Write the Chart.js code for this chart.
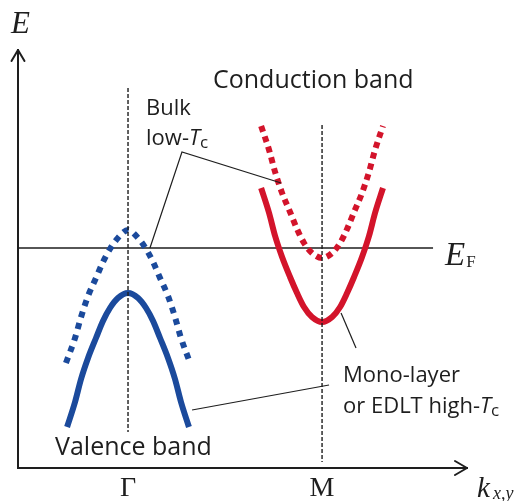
<!DOCTYPE html>
<html><head><meta charset="utf-8">
<script src="https://cdn.jsdelivr.net/npm/chart.js@4/dist/chart.umd.min.js"></script>
<style>html,body{margin:0;padding:0;background:#fff}</style>
</head><body>
<canvas id="c" width="516" height="501"></canvas>
<script>
// ---- data (k: Γ = 0, M = 1 ; E relative to E_F = 0) ----
const tickValues = [0, 1];
const tickLabels = ['Γ', 'M'];

const valenceK        = [-0.314,-0.273,-0.242,-0.206,-0.165,-0.129,-0.093,-0.052,0,0.052,0.093,0.129,0.165,0.206,0.242,0.273,0.314];
const valenceMonoE    = [-1.79,-1.54,-1.31,-1.10,-0.90,-0.73,-0.60,-0.50,-0.45,-0.50,-0.60,-0.73,-0.90,-1.10,-1.31,-1.54,-1.79];
const valenceBulkK    = [-0.32,-0.273,-0.242,-0.206,-0.165,-0.129,-0.093,-0.052,0,0.052,0.093,0.129,0.165,0.206,0.242,0.273,0.32];
const valenceBulkE    = [-1.15,-0.90,-0.69,-0.48,-0.30,-0.14,-0.01,0.10,0.18,0.10,-0.01,-0.14,-0.30,-0.48,-0.69,-0.90,-1.15];

const conductionK     = [0.686,0.727,0.758,0.794,0.835,0.871,0.907,0.948,1,1.052,1.093,1.129,1.165,1.206,1.242,1.273,1.314];
const conductionMonoE = [0.60,0.35,0.12,-0.09,-0.29,-0.45,-0.59,-0.69,-0.74,-0.69,-0.59,-0.45,-0.29,-0.09,0.12,0.35,0.60];
const conductionBulkE = [1.22,0.98,0.76,0.55,0.36,0.19,0.05,-0.05,-0.10,-0.05,0.05,0.19,0.36,0.55,0.76,0.98,1.22];

const fermiK = [-0.567, 1.572];
const fermiE = [0, 0];
const gammaLineK = [0, 0];
const gammaLineE = [1.60, -1.84];
const mLineK = [1, 1];
const mLineE = [1.23, -2.14];

const leaderBulkK = [0.113, 0.278, 0.789];
const leaderBulkE = [0.00, 0.96, 0.65];
const leaderMonoCK = [1.098, 1.175];
const leaderMonoCE = [-0.65, -1.00];
const leaderMonoVK = [0.330, 1.036];
const leaderMonoVE = [-1.62, -1.37];

const axisRange = { kMin: -0.567, kMax: 1.747, eMin: -2.20, eMax: 1.98 };

const BLUE = '#1b4a9c';
const RED = '#d3142b';
const INK = '#1e1e1e';

function pts(ks, es) { return ks.map((k, i) => ({ x: k, y: es[i] })); }

const SANS = '"Open Sans", Lato, sans-serif';
const SERIF = '"Liberation Serif", "Times New Roman", serif';

const textPlugin = {
  id: 'texts',
  afterDraw(chart) {
    const { ctx, chartArea: a, scales: { x, y } } = chart;
    const px = k => x.getPixelForValue(k);
    const py = e => y.getPixelForValue(e);
    ctx.save();
    ctx.fillStyle = INK; ctx.strokeStyle = INK;
    ctx.textBaseline = 'alphabetic'; ctx.textAlign = 'left';

    // arrow heads
    ctx.lineWidth = 2; ctx.lineCap = 'round'; ctx.lineJoin = 'round';
    ctx.beginPath();
    ctx.moveTo(a.left - 6.5, a.top + 11); ctx.lineTo(a.left, a.top); ctx.lineTo(a.left + 6.5, a.top + 11);
    ctx.stroke();
    ctx.beginPath();
    ctx.moveTo(a.right - 12, a.bottom - 7); ctx.lineTo(a.right, a.bottom); ctx.lineTo(a.right - 12, a.bottom + 7);
    ctx.stroke();

    // axis titles
    ctx.font = 'italic 31px ' + SERIF;
    ctx.fillText('E', a.left - 7, a.top - 17);
    ctx.font = 'italic 29px ' + SERIF;
    ctx.fillText('k', a.right + 10, 497);
    ctx.font = 'italic 18px ' + SERIF;
    ctx.fillText('x,y', a.right + 26, 499);

    // E_F
    ctx.font = 'italic 33px ' + SERIF;
    ctx.fillText('E', px(1.634), py(-0.17));
    const wE = ctx.measureText('E').width;
    ctx.font = '17px ' + SERIF;
    ctx.fillText('F', px(1.634) + wE + 1, py(-0.19));

    // band labels
    ctx.font = '25px ' + SANS;
    ctx.fillText('Conduction band', px(0.438), py(1.60));
    ctx.fillText('Valence band', px(-0.376), py(-2.07));

    // annotations
    ctx.font = '22px ' + SANS;
    ctx.fillText('Bulk', px(0.093), py(1.33));
    let xx = px(0.093), yy = py(1.03);
    ctx.fillText('low-', xx, yy); xx += ctx.measureText('low-').width;
    ctx.font = 'italic 22px ' + SANS; ctx.fillText('T', xx, yy); xx += ctx.measureText('T').width;
    ctx.font = '17px ' + SANS; ctx.fillText('c', xx, yy + 3);

    ctx.font = '22px ' + SANS;
    ctx.fillText('Mono-layer', px(1.108), py(-1.34));
    xx = px(1.108); yy = py(-1.65);
    ctx.fillText('or EDLT high-', xx, yy); xx += ctx.measureText('or EDLT high-').width;
    ctx.font = 'italic 22px ' + SANS; ctx.fillText('T', xx, yy); xx += ctx.measureText('T').width;
    ctx.font = '17px ' + SANS; ctx.fillText('c', xx, yy + 3);
    ctx.restore();
  }
};

new Chart(document.getElementById('c'), {
  type: 'line',
  data: {
    datasets: [
      { data: pts(gammaLineK, gammaLineE), borderColor: INK, borderWidth: 1.4, borderDash: [4, 2], order: 0 },
      { data: pts(mLineK, mLineE), borderColor: INK, borderWidth: 1.4, borderDash: [4, 2], order: 0 },
      { data: pts(leaderBulkK, leaderBulkE), borderColor: INK, borderWidth: 1.2, order: 1 },
      { data: pts(leaderMonoCK, leaderMonoCE), borderColor: INK, borderWidth: 1.2, order: 1 },
      { data: pts(leaderMonoVK, leaderMonoVE), borderColor: INK, borderWidth: 1.2, order: 1 },
      { data: pts(valenceK, valenceMonoE), borderColor: BLUE, borderWidth: 6, cubicInterpolationMode: 'monotone', order: 2 },
      { data: pts(valenceBulkK, valenceBulkE), borderColor: BLUE, borderWidth: 6, borderDash: [6, 6], cubicInterpolationMode: 'monotone', order: 2 },
      { data: pts(conductionK, conductionMonoE), borderColor: RED, borderWidth: 6, cubicInterpolationMode: 'monotone', order: 2 },
      { data: pts(conductionK, conductionBulkE), borderColor: RED, borderWidth: 6, borderDash: [6, 5], cubicInterpolationMode: 'monotone', order: 2 },
      { data: pts(fermiK, fermiE), borderColor: INK, borderWidth: 1.5, order: 3 }
    ]
  },
  options: {
    responsive: false,
    animation: false,
    events: [],
    layout: { padding: { left: 18, top: 50, right: 49, bottom: 0 } },
    elements: { point: { radius: 0 }, line: { borderCapStyle: 'butt', fill: false } },
    plugins: { legend: { display: false }, tooltip: { enabled: false } },
    scales: {
      x: {
        type: 'linear', min: axisRange.kMin, max: axisRange.kMax,
        grid: { display: false, drawTicks: false },
        border: { display: true, color: INK, width: 2 },
        afterBuildTicks: s => { s.ticks = tickValues.map(v => ({ value: v })); },
        afterFit: s => { s.height = 33; },
        ticks: {
          padding: 7, color: INK, autoSkip: false, maxRotation: 0,
          font: { family: '"Liberation Serif", serif', size: 28, lineHeight: 0.95 },
          callback: v => tickLabels[tickValues.indexOf(v)] ?? ''
        }
      },
      y: {
        type: 'linear', min: axisRange.eMin, max: axisRange.eMax,
        grid: { display: false, drawTicks: false },
        border: { display: true, color: INK, width: 2 },
        ticks: { display: false }
      }
    }
  },
  plugins: [textPlugin]
});
</script>
</body></html>
